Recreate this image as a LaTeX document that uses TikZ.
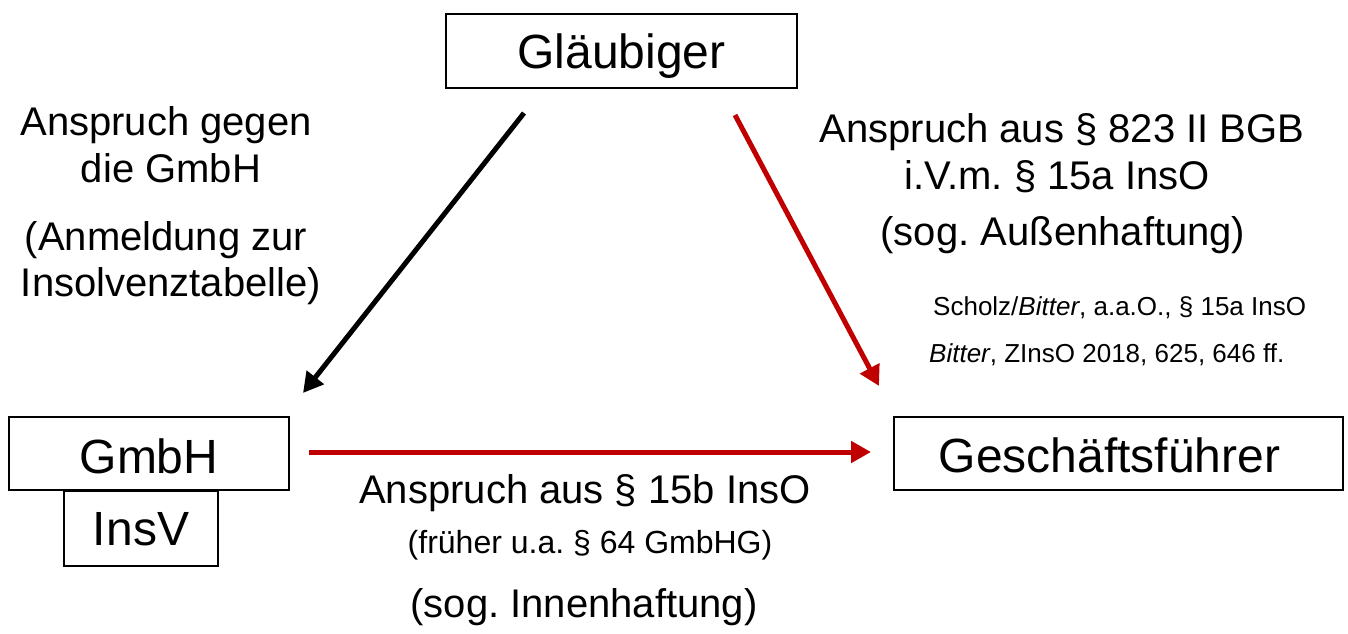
\documentclass[tikz,border=0pt]{standalone}
\usepackage{fontspec}
\setmainfont{Liberation Sans}
\usetikzlibrary{arrows.meta}
\definecolor{darkred}{HTML}{C00000}
\begin{document}
\frenchspacing
\begin{tikzpicture}[x=1pt,y=-1pt,
  box/.style={draw=black,line width=1.5pt,inner sep=0pt,font=\fontsize{48}{56}\selectfont},
  lbl/.style={anchor=base,inner sep=0pt,font=\fontsize{40}{48}\selectfont},
  sml/.style={anchor=base,inner sep=0pt,font=\fontsize{32}{38}\selectfont},
  ref/.style={anchor=base west,inner sep=0pt,font=\fontsize{26}{30}\selectfont},
  arr/.style={line width=5pt,-{Triangle[length=20pt,width=21pt]}}]
\useasboundingbox (0,0) rectangle (1348,633);
\fill[white] (0,0) rectangle (1348,633);
% boxes
\node[box,minimum width=351pt,text height=54pt,text depth=20pt] (glaeubiger) at (621.5,51) {Gläubiger};
\node[box,minimum width=280pt,text height=56pt,text depth=17pt] (gmbh) at (149,453.5) {GmbH};
\node[box,minimum width=154pt,text height=55pt,text depth=20pt,anchor=north] (insv) at (141,490) {InsV};
\node[box,minimum width=449pt,text height=55pt,text depth=18pt] (gf) at (1118.5,453.5) {\hspace*{-18pt}Geschäftsführer};
% arrow end points
\coordinate (a1s) at (524,113);
\coordinate (a1e) at (303,393);
\coordinate (a2s) at (735,115);
\coordinate (a2e) at (879,386);
\coordinate (a3s) at (309,452);
\coordinate (a3e) at (871,452);
\draw[arr,black] (a1s) -- (a1e);
\draw[arr,darkred] (a2s) -- (a2e);
\draw[arr,darkred] (a3s) -- (a3e);
% left labels
\node[lbl] (l1) at (166,135) {Anspruch gegen};
\node[lbl] (l2) at (171,182) {die GmbH};
\node[lbl] (l3) at (166,250) {(Anmeldung zur};
\node[lbl] (l4) at (171,296) {Insolvenztabelle)};
% right labels
\node[lbl] (r1) at (1062,142) {Anspruch aus § 823 II BGB};
\node[lbl] (r2) at (1057,189) {i.V.m. § 15a InsO};
\node[lbl] (r3) at (1063,245) {(sog. Außenhaftung)};
\node[ref] (s1) at (933,315) {Scholz/\textit{Bitter}, a.a.O., § 15a InsO};
\node[ref] (s2) at (929,362) {\textit{Bitter}, ZInsO 2018, 625, 646 ff.};
% bottom labels
\node[lbl] (b1) at (585,503) {Anspruch aus § 15b InsO};
\node[sml] (b2) at (590,553) {(früher u.a. § 64 GmbHG)};
\node[lbl] (b3) at (584,617) {(sog. Innenhaftung)};
\end{tikzpicture}
\end{document}
